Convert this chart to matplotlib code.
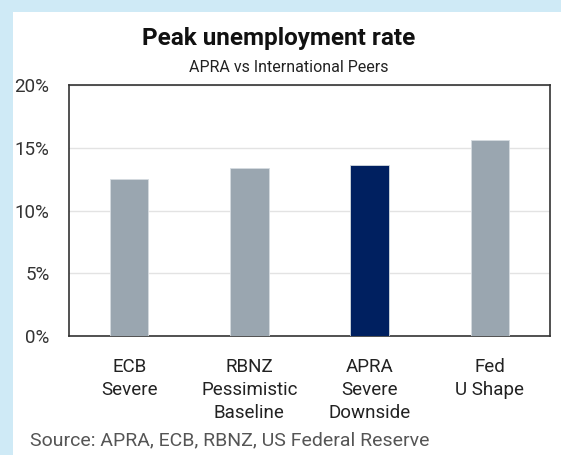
import matplotlib
matplotlib.use("Agg")
import matplotlib.pyplot as plt
from matplotlib.patches import Rectangle
from matplotlib.ticker import PercentFormatter

plt.rcParams['font.family'] = ['Roboto', 'DejaVu Sans']

# data
categories = ["ECB\nSevere", "RBNZ\nPessimistic\nBaseline", "APRA\nSevere\nDownside", "Fed\nU Shape"]
peak_rate = [12.5, 13.4, 13.6, 15.6]
bar_colors = ["#9aa6b0", "#9aa6b0", "#002060", "#9aa6b0"]
y_ticks = [0, 5, 10, 15, 20]


def main():
    fig = plt.figure(figsize=(5.61, 4.55), dpi=100)
    fig.patch.set_facecolor("#cfeaf6")
    # white panel, leaving a blue band on the top and left
    fig.add_artist(Rectangle((13 / 561, 0), 1, 443 / 455, transform=fig.transFigure,
                             facecolor="white", edgecolor="none", zorder=0))

    ax = fig.add_axes([69 / 561, 119 / 455, 481 / 561, 251 / 455])
    x = range(len(categories))
    ax.bar(x, peak_rate, width=0.32, color=bar_colors, edgecolor="#d5dbe0", linewidth=0.6, zorder=3)

    ax.set_xlim(-0.5, len(categories) - 0.5)
    ax.set_ylim(0, 20)
    ax.set_yticks(y_ticks)
    ax.yaxis.set_major_formatter(PercentFormatter(decimals=0))
    ax.set_xticks(list(x))
    ax.set_xticklabels(categories, fontsize=13.5, linespacing=1.35, color="#222222")
    ax.tick_params(axis="x", length=0, pad=16)
    ax.tick_params(axis="y", length=0, pad=14, labelsize=13.5, labelcolor="#333333")
    ax.grid(axis="y", color="#e3e3e3", linewidth=1, zorder=0)
    for s in ax.spines.values():
        s.set_color("#333333")
        s.set_linewidth(1.2)

    fig.text(279 / 561, 1 - 38 / 455, "Peak unemployment rate", ha="center", va="center",
             fontsize=17.5, fontweight="bold", color="#111111")
    fig.text(289 / 561, 1 - 67 / 455, "APRA vs International Peers", ha="center", va="center",
             fontsize=11.5, color="#222222")
    fig.text(30 / 561, 1 - 440 / 455, "Source: APRA, ECB, RBNZ, US Federal Reserve", ha="left",
             va="center", fontsize=14, color="#555555")

    fig.savefig("out.png", dpi=100, facecolor=fig.get_facecolor())


if __name__ == "__main__":
    main()
